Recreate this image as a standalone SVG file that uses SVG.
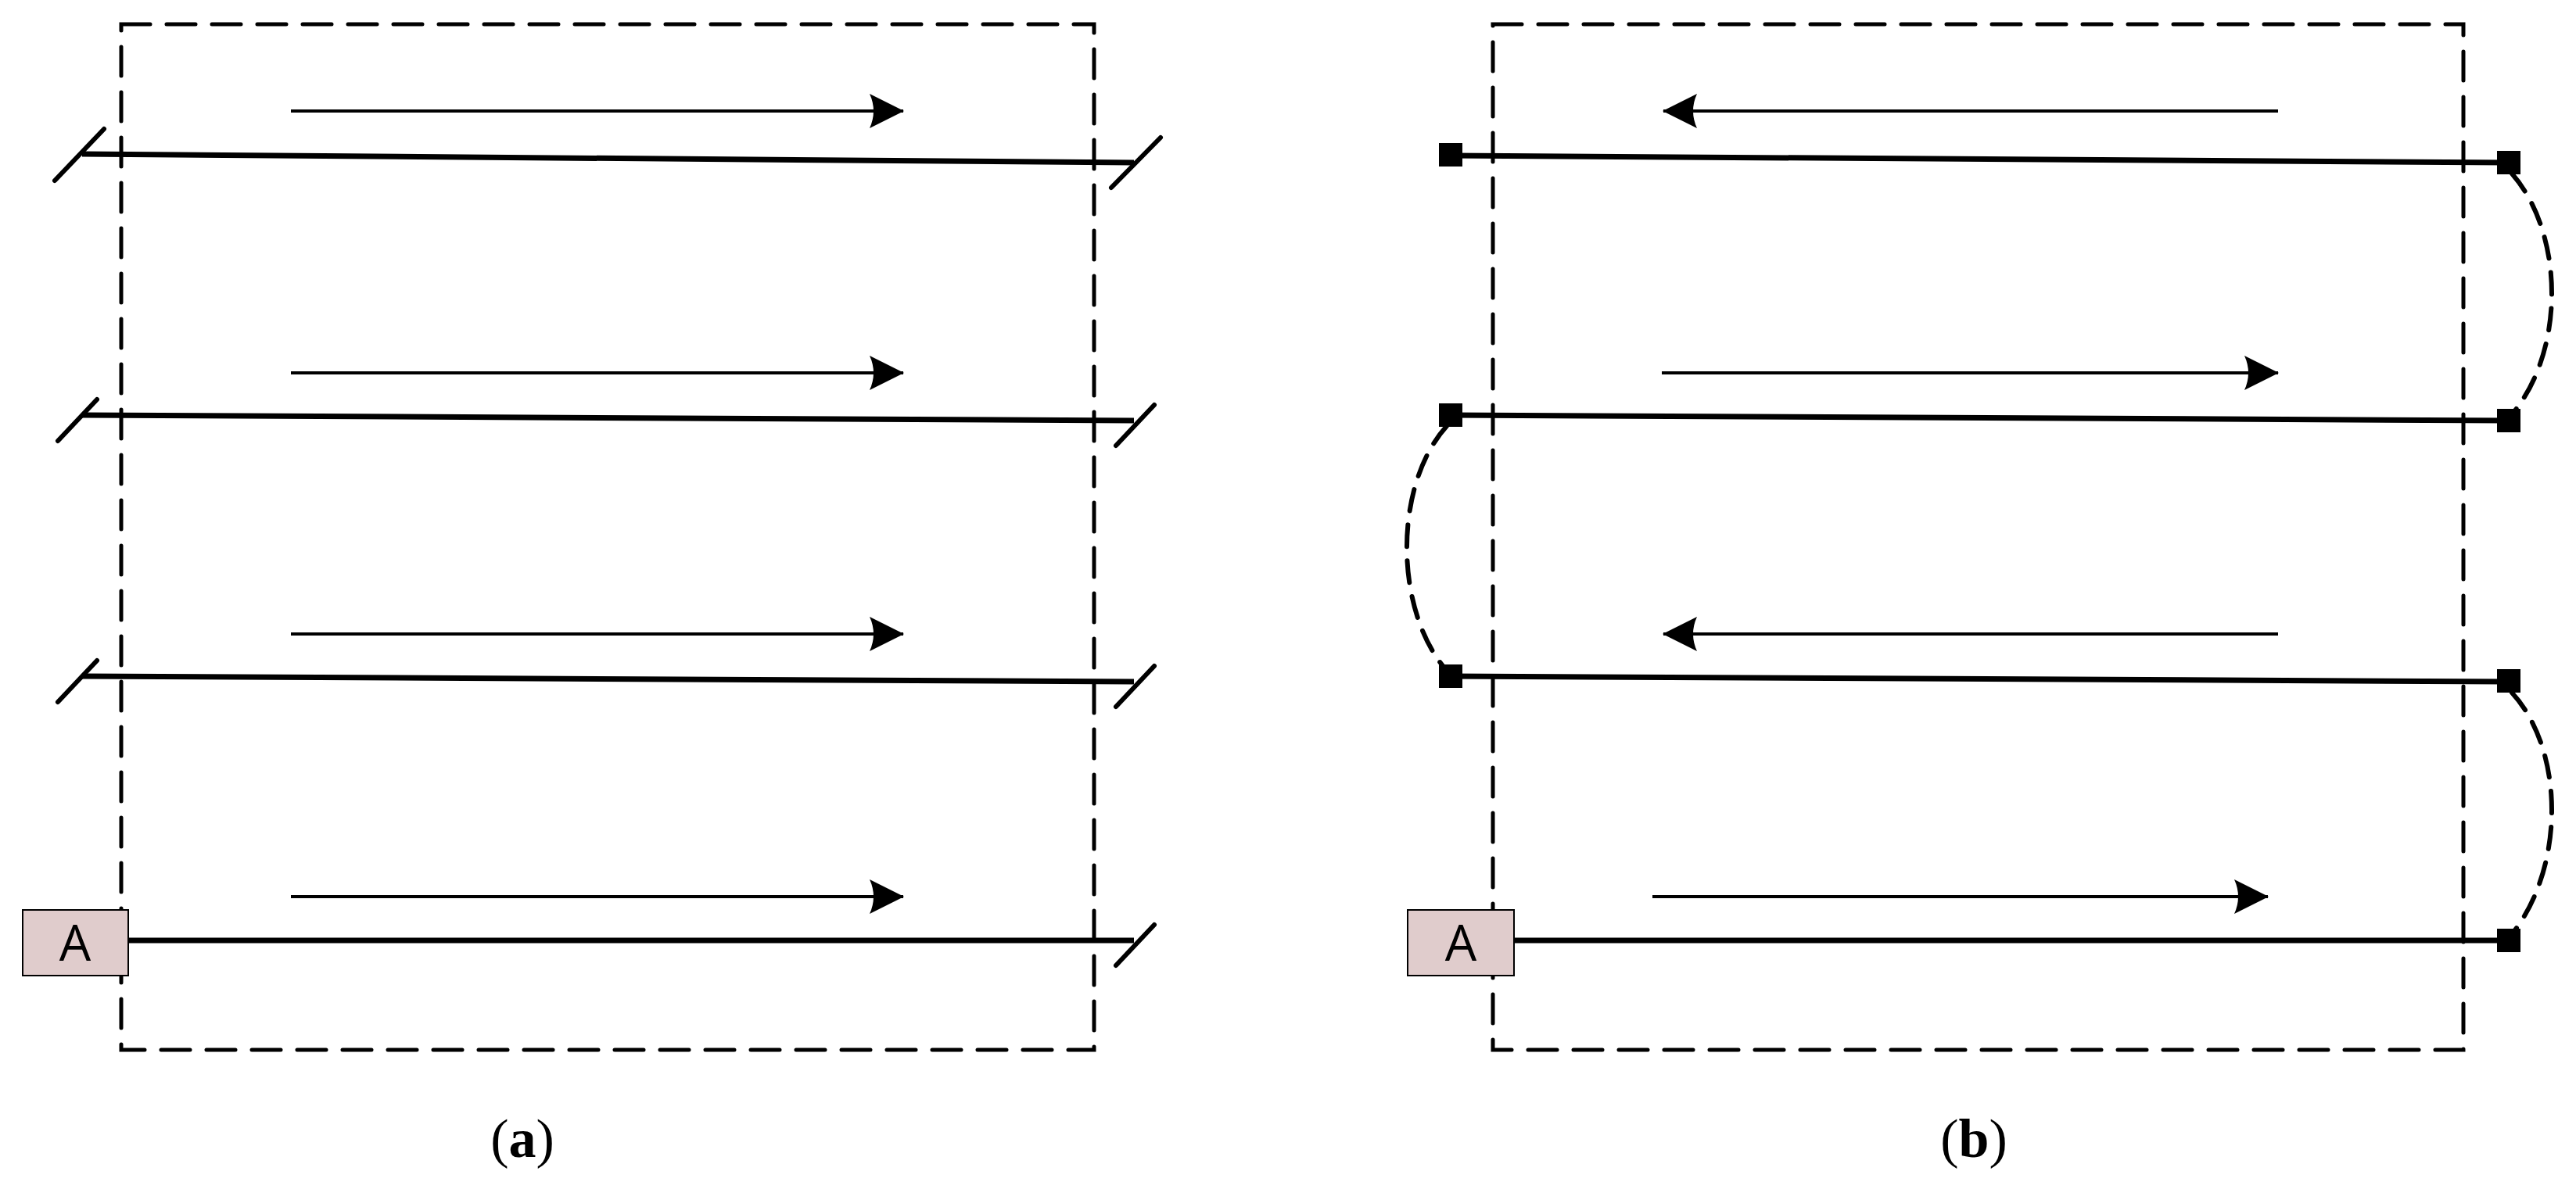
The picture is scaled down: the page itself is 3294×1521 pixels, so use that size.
<svg xmlns="http://www.w3.org/2000/svg" width="3294" height="1521" viewBox="0 0 3294 1521">
<defs>
<style>
.frame{fill:none;stroke:#000;stroke-width:5;stroke-dasharray:37 21;stroke-linecap:round}
.line{stroke:#000;stroke-width:7;fill:none}
.arr{stroke:#000;stroke-width:4;fill:none}
.slash{stroke:#000;stroke-width:6;stroke-linecap:round}
.arc{fill:none;stroke:#000;stroke-width:6;stroke-dasharray:28 18;stroke-linecap:round}
.sq{fill:#000}
.box{fill:#e0cccc;stroke:#000;stroke-width:2}
.lbl{font-family:"Open Sans","DejaVu Sans",sans-serif;font-size:64px}
.cap{font-family:"Liberation Serif",serif;font-size:70px}
</style>
<marker id="ah" markerWidth="44" markerHeight="44" viewBox="0 0 44 44" refX="43" refY="22" orient="auto" markerUnits="userSpaceOnUse">
<path d="M0,0 L44,22 L0,44 Q10,22 0,0 Z" fill="#000"/>
</marker>
</defs>
<rect width="3294" height="1521" fill="#fff"/>
<g id="frame-a"><rect class="frame" x="155" y="31" width="1244" height="1312"/></g>
<g id="frame-b"><rect class="frame" x="1909" y="31" width="1241" height="1312"/></g>
<g id="connectors">
<line class="line" x1="105" y1="197" x2="1450" y2="208"/>
<line class="line" x1="105" y1="531" x2="1450" y2="538"/>
<line class="line" x1="105" y1="865" x2="1450" y2="872"/>
<line class="line" x1="164" y1="1203" x2="1450" y2="1203"/>
<line class="slash" x1="70" y1="231" x2="133" y2="165"/>
<line class="slash" x1="1421" y1="240" x2="1484" y2="176"/>
<line class="slash" x1="74" y1="564" x2="124" y2="511"/>
<line class="slash" x1="1427" y1="570" x2="1476" y2="518"/>
<line class="slash" x1="74" y1="898" x2="124" y2="845"/>
<line class="slash" x1="1427" y1="904" x2="1476" y2="852"/>
<line class="slash" x1="1427" y1="1235" x2="1476" y2="1183"/>
<line class="arr" x1="372" y1="142" x2="1155" y2="142" marker-end="url(#ah)"/>
<line class="arr" x1="372" y1="477" x2="1155" y2="477" marker-end="url(#ah)"/>
<line class="arr" x1="372" y1="811" x2="1155" y2="811" marker-end="url(#ah)"/>
<line class="arr" x1="372" y1="1147" x2="1155" y2="1147" marker-end="url(#ah)"/>
<line class="line" x1="1854" y1="199" x2="3207" y2="208"/>
<line class="line" x1="1854" y1="531" x2="3207" y2="538"/>
<line class="line" x1="1854" y1="865" x2="3207" y2="872"/>
<line class="line" x1="1936" y1="1203" x2="3207" y2="1203"/>
<line class="arr" x1="2913" y1="142" x2="2127" y2="142" marker-end="url(#ah)"/>
<line class="arr" x1="2125" y1="477" x2="2913" y2="477" marker-end="url(#ah)"/>
<line class="arr" x1="2913" y1="811" x2="2127" y2="811" marker-end="url(#ah)"/>
<line class="arr" x1="2113" y1="1147" x2="2900" y2="1147" marker-end="url(#ah)"/>
<path class="arc" d="M3212,222 C3280,300 3280,450 3212,530"/>
<path class="arc" d="M1850,545 C1782,620 1782,780 1850,858"/>
<path class="arc" d="M3212,886 C3280,960 3280,1110 3212,1195"/>
</g>
<g id="ends-b">
<rect class="sq" x="1840" y="183" width="30" height="30"/>
<rect class="sq" x="3193" y="193" width="30" height="30"/>
<rect class="sq" x="1840" y="516" width="30" height="30"/>
<rect class="sq" x="3193" y="523" width="30" height="30"/>
<rect class="sq" x="1840" y="850" width="30" height="30"/>
<rect class="sq" x="3193" y="856" width="30" height="30"/>
<rect class="sq" x="3193" y="1188" width="30" height="30"/>
</g>
<g id="node-a-A"><rect class="box" x="29" y="1164" width="135" height="84"/><text class="lbl" x="96" y="1229" text-anchor="middle">A</text></g>
<g id="node-b-A"><rect class="box" x="1800" y="1164" width="136" height="84"/><text class="lbl" x="1868" y="1229" text-anchor="middle">A</text></g>
<g id="captions">
<text class="cap" x="668" y="1480" text-anchor="middle">(<tspan font-weight="bold">a</tspan>)</text>
<text class="cap" x="2524" y="1480" text-anchor="middle">(<tspan font-weight="bold">b</tspan>)</text>
</g>
</svg>
